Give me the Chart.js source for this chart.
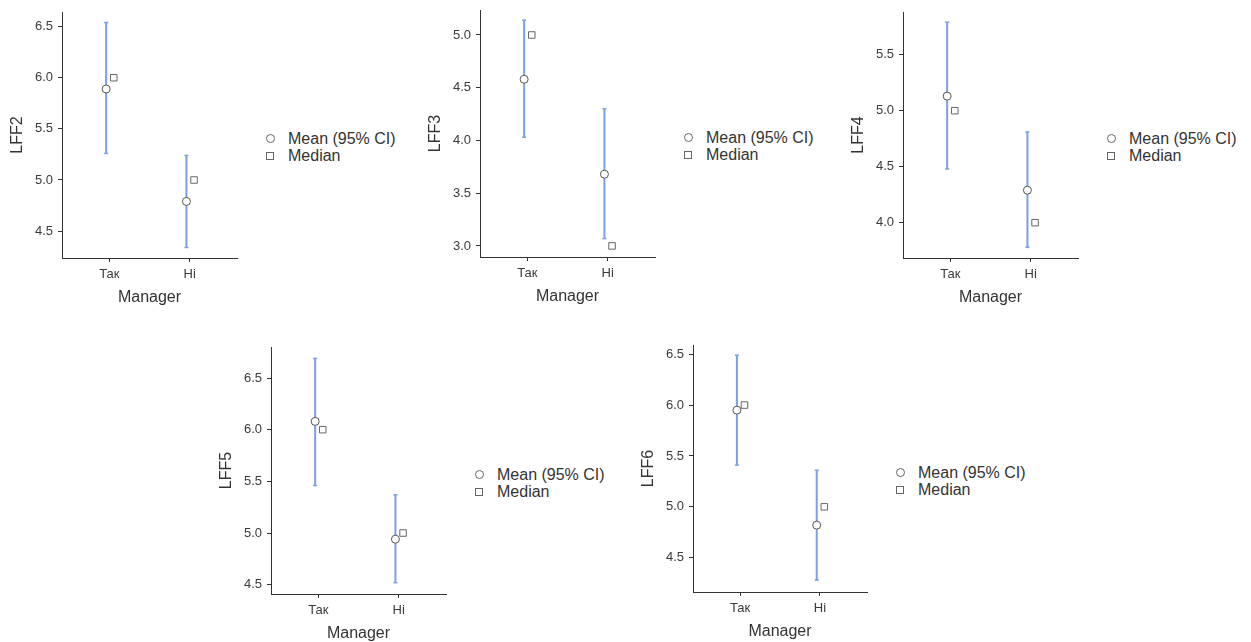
<!DOCTYPE html>
<html>
<head>
<meta charset="utf-8">
<script src="https://cdn.jsdelivr.net/npm/chart.js@4"></script>
<style>
  body { margin: 0; background: #fff; width: 1251px; height: 642px; overflow: hidden; position: relative; font-family: 'Liberation Sans', Arial, sans-serif; }
  canvas { position: absolute; }
  .legend { position: absolute; color: #333; font-size: 16px; line-height: 18px; }
  .legend .row { position: absolute; white-space: nowrap; }
  .legend .mk { position: absolute; box-sizing: border-box; border: 1px solid #666; background: #fff; }
  .legend .circle { width: 9px; height: 9px; border-radius: 50%; }
  .legend .square { width: 8px; height: 8px; }
</style>
</head>
<body>
<script>
// data
const categories = ['Так', 'Ні'];
const variables = ['LFF2', 'LFF3', 'LFF4', 'LFF5', 'LFF6'];
const meanValues = [[5.89, 4.79], [4.58, 3.68], [5.13, 4.29], [6.08, 4.94], [5.95, 4.82]];
const ciLower = [[5.26, 4.34], [4.03, 3.07], [4.48, 3.78], [5.46, 4.52], [5.41, 4.28]];
const ciUpper = [[6.54, 5.24], [5.14, 4.30], [5.79, 4.81], [6.69, 5.37], [6.49, 5.36]];
const medianValues = [[6, 5], [5, 3], [5, 4], [6, 5], [6, 5]];
const legendLabels = ['Mean (95% CI)', 'Median'];
const xTitle = 'Manager';

// plot area of each panel on the page (left, top, right, bottom) and y range
const panels = [
    { l: 62, t: 12, r: 237, b: 258, yMin: 4.237, yMax: 6.643 },
    { l: 480, t: 10, r: 655, b: 257, yMin: 2.895, yMax: 5.237 },
    { l: 903, t: 12, r: 1078, b: 258, yMin: 3.685, yMax: 5.881 },
    { l: 271, t: 347, r: 446, b: 594, yMin: 4.41, yMax: 6.80 },
    { l: 693, t: 345, r: 867, b: 592, yMin: 4.163, yMax: 6.59 }
];

const ERR_COLOR = '#7b9fe6';
const AXIS_COLOR = '#333';
const FONT = "'Liberation Sans', Arial, sans-serif";
// top padding must exceed the half-label padding chart.js reserves for the y ticks
const Y_AXIS_W = 62, X_AXIS_H = 49, PAD_TOP = 14, PAD_RIGHT = 8;
const MEAN_SHIFT = -0.04, MEDIAN_SHIFT = 0.055;

function makePanel(i) {
    const p = panels[i];
    const canvas = document.createElement('canvas');
    const w = Y_AXIS_W + (p.r - p.l) + PAD_RIGHT;
    const h = PAD_TOP + (p.b - p.t) + X_AXIS_H;
    canvas.width = w;
    canvas.height = h;
    canvas.style.left = (p.l - Y_AXIS_W) + 'px';
    canvas.style.top = (p.t - PAD_TOP) + 'px';
    canvas.style.width = w + 'px';
    canvas.style.height = h + 'px';
    document.body.appendChild(canvas);

    const datasets = [];
    datasets.push({
        label: 'Mean',
        data: categories.map((c, k) => ({ x: k + 1 + MEAN_SHIFT, y: meanValues[i][k] })),
        pointStyle: 'circle',
        pointRadius: 4,
        pointBackgroundColor: '#fff',
        pointBorderColor: '#555',
        pointBorderWidth: 1
    });
    datasets.push({
        label: 'Median',
        data: categories.map((c, k) => ({ x: k + 1 + MEDIAN_SHIFT, y: medianValues[i][k] })),
        pointStyle: 'rect',
        pointRadius: 4.6,
        pointBackgroundColor: '#fff',
        pointBorderColor: '#666',
        pointBorderWidth: 1
    });
    categories.forEach((c, k) => {
        datasets.push({
            label: 'CI ' + c,
            data: [
                { x: k + 1 + MEAN_SHIFT, y: ciLower[i][k] },
                { x: k + 1 + MEAN_SHIFT, y: ciUpper[i][k] }
            ],
            showLine: true,
            borderColor: ERR_COLOR,
            borderWidth: 2,
            pointStyle: 'line',
            pointRadius: 2,
            pointBorderColor: ERR_COLOR,
            pointBorderWidth: 1.5
        });
    });

    new Chart(canvas, {
        type: 'scatter',
        data: { datasets: datasets },
        options: {
            responsive: false,
            animation: false,
            events: [],
            layout: { padding: { top: PAD_TOP, right: PAD_RIGHT, left: 0, bottom: 0 } },
            plugins: { legend: { display: false }, tooltip: { enabled: false } },
            scales: {
                x: {
                    type: 'linear',
                    min: 0.41,
                    max: 2.59,
                    offset: false,
                    afterFit: (scale) => { scale.height = X_AXIS_H; },
                    afterBuildTicks: (scale) => { scale.ticks = categories.map((c, k) => ({ value: k + 1 })); },
                    grid: { display: true, drawOnChartArea: false, drawTicks: true, tickLength: 4, color: AXIS_COLOR, offset: false },
                    border: { display: true, color: AXIS_COLOR, width: 1 },
                    ticks: {
                        padding: 5,
                        color: '#3a3a3a',
                        font: { family: FONT, size: 13 },
                        callback: (v) => categories[Math.round(v) - 1]
                    },
                    title: {
                        display: true,
                        text: xTitle,
                        color: '#333',
                        font: { family: FONT, size: 16 },
                        padding: { top: 0, bottom: 0 }
                    }
                },
                y: {
                    type: 'linear',
                    min: p.yMin,
                    max: p.yMax,
                    beginAtZero: false,
                    afterFit: (scale) => { scale.width = Y_AXIS_W; },
                    grid: { display: true, drawOnChartArea: false, drawTicks: true, tickLength: 4, color: AXIS_COLOR },
                    border: { display: true, color: AXIS_COLOR, width: 1 },
                    ticks: {
                        stepSize: 0.5,
                        includeBounds: false,
                        padding: 5,
                        color: '#3a3a3a',
                        font: { family: FONT, size: 13 },
                        callback: (v) => v.toFixed(1)
                    },
                    title: {
                        display: true,
                        text: variables[i],
                        color: '#333',
                        font: { family: FONT, size: 16 },
                        padding: { top: 8, bottom: 0 }
                    }
                }
            }
        }
    });

    // legend to the right of the plot
    const lg = document.createElement('div');
    lg.className = 'legend';
    const midY = Math.round((p.t + p.b) / 2) + 12;
    lg.style.left = (p.r + 29) + 'px';
    lg.style.top = (midY - 17) + 'px';
    legendLabels.forEach((txt, k) => {
        const row = document.createElement('div');
        row.className = 'row';
        row.style.top = (k * 17) + 'px';
        row.style.left = '0px';
        const mk = document.createElement('span');
        mk.className = 'mk ' + (k === 0 ? 'circle' : 'square');
        mk.style.left = '0px';
        mk.style.top = (k === 0 ? 4 : 5) + 'px';
        const label = document.createElement('span');
        label.style.position = 'absolute';
        label.style.left = '22px';
        label.textContent = txt;
        row.appendChild(mk);
        row.appendChild(label);
        lg.appendChild(row);
    });
    document.body.appendChild(lg);
}

panels.forEach((p, i) => makePanel(i));
</script>
</body>
</html>
